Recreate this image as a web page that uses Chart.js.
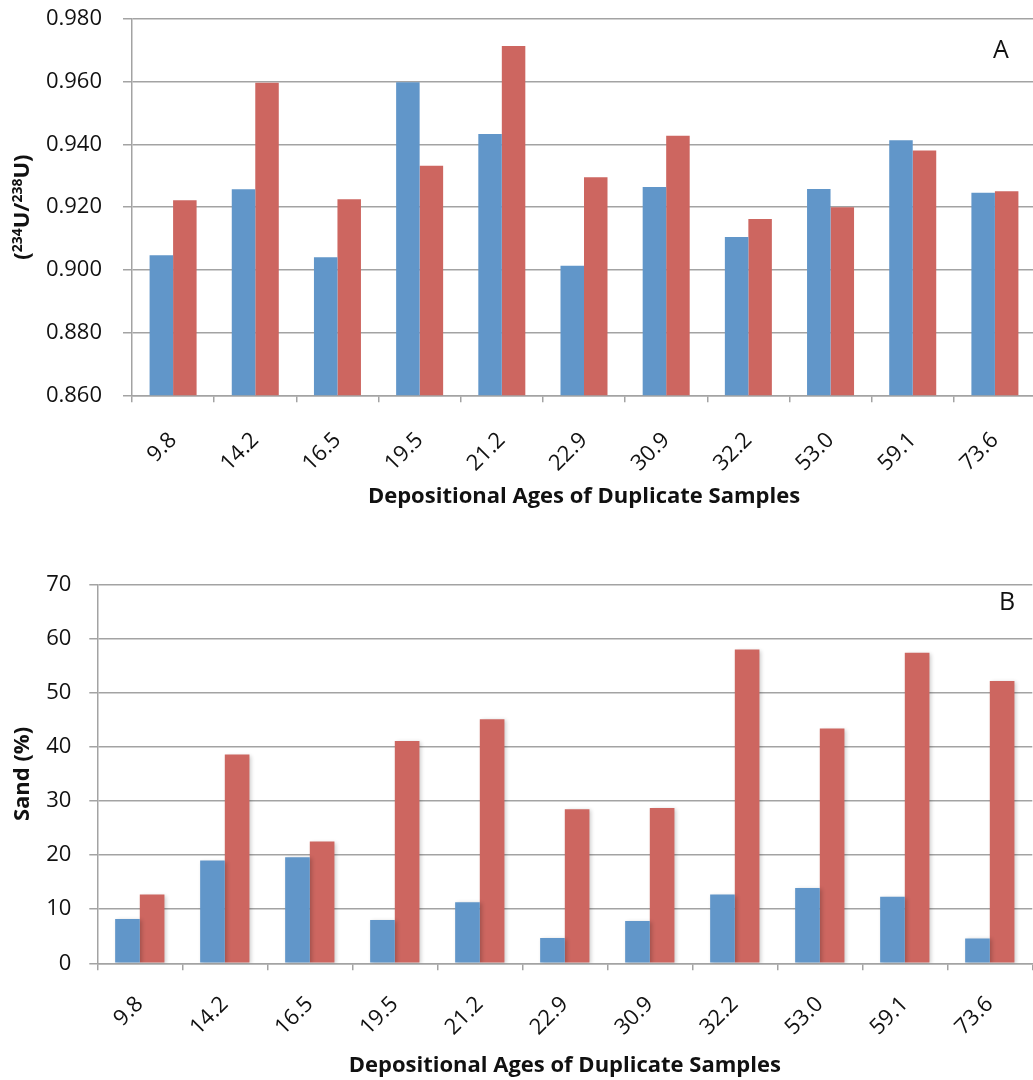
<!DOCTYPE html>
<html>
<head>
<meta charset="utf-8">
<title>Depositional ages of duplicate samples</title>
<script src="https://cdn.jsdelivr.net/npm/chart.js@4/dist/chart.umd.min.js"></script>
<style>
  html, body { margin: 0; padding: 0; background: #ffffff; overflow: hidden; }
  .panel { position: absolute; left: 0; width: 1040px; height: 530px; }
  #panelA { top: 0; }
  #panelB { top: 550px; }
</style>
</head>
<body>
<div class="panel" id="panelA"><canvas id="chartA" width="1040" height="530"></canvas></div>
<div class="panel" id="panelB"><canvas id="chartB" width="1040" height="530"></canvas></div>
<script>
// Depositional ages (ka) of the duplicate sample pairs
const ages = ['9.8', '14.2', '16.5', '19.5', '21.2', '22.9', '30.9', '32.2', '53.0', '59.1', '73.6'];

// Panel A: (234U/238U) activity ratios
const ratioFirst  = [0.9047, 0.9257, 0.9040, 0.9598, 0.9433, 0.9013, 0.9264, 0.9105, 0.9258, 0.9413, 0.9246];
const ratioSecond = [0.9222, 0.9597, 0.9225, 0.9332, 0.9714, 0.9295, 0.9428, 0.9162, 0.9200, 0.9381, 0.9251];

// Panel B: sand content (%)
const sandFirst  = [8.2, 19.0, 19.6, 8.0, 11.3, 4.7, 7.8, 12.7, 13.9, 12.3, 4.6];
const sandSecond = [12.7, 38.6, 22.5, 41.1, 45.1, 28.5, 28.7, 58.0, 43.4, 57.4, 52.2];

const FONT = "'Open Sans', 'Liberation Sans', sans-serif";
const BLUE = '#6196c9';
const RED = '#cd6660';
const GRID = '#a3a3a3';
const INK = '#111111';

// Letter tag in the upper right of each panel
const panelLetter = {
  id: 'panelLetter',
  afterDraw(chart, args, opts) {
    const ctx = chart.ctx;
    ctx.save();
    ctx.font = '25px ' + FONT;
    ctx.fillStyle = INK;
    ctx.textAlign = 'center';
    ctx.textBaseline = 'middle';
    ctx.fillText(opts.text, opts.x, opts.y);
    ctx.restore();
  }
};

// Rotated y title with superscript mass numbers
const isotopeTitle = {
  id: 'isotopeTitle',
  afterDraw(chart, args, opts) {
    if (!opts.parts) return;
    const ctx = chart.ctx;
    const big = 'bold 22px ' + FONT;
    const small = 'bold 14px ' + FONT;
    ctx.save();
    ctx.translate(opts.x, (chart.chartArea.top + chart.chartArea.bottom) / 2);
    ctx.rotate(-Math.PI / 2);
    let w = 0;
    opts.parts.forEach(p => { ctx.font = p.sup ? small : big; w += ctx.measureText(p.t).width; });
    let x = -w / 2;
    ctx.fillStyle = INK;
    ctx.textBaseline = 'middle';
    ctx.textAlign = 'left';
    opts.parts.forEach(p => {
      ctx.font = p.sup ? small : big;
      ctx.fillText(p.t, x, p.sup ? -5 : 0);
      x += ctx.measureText(p.t).width;
    });
    ctx.restore();
  }
};

// Soft drop shadow behind the bars
const barShadow = {
  id: 'barShadow',
  beforeDatasetsDraw(chart, args, opts) {
    if (!opts.on) return;
    const ctx = chart.ctx;
    ctx.save();
    ctx.shadowColor = 'rgba(0,0,0,0.2)';
    ctx.shadowBlur = 4;
    ctx.shadowOffsetX = 2;
    ctx.shadowOffsetY = 1;
  },
  afterDatasetsDraw(chart, args, opts) {
    if (!opts.on) return;
    chart.ctx.restore();
  }
};

function makeChart(id, cfg) {
  return new Chart(document.getElementById(id), {
    type: 'bar',
    data: {
      labels: ages,
      datasets: [
        { data: cfg.first, backgroundColor: BLUE, borderWidth: 0 },
        { data: cfg.second, backgroundColor: RED, borderWidth: 0 }
      ]
    },
    options: {
      responsive: false,
      animation: false,
      events: [],
      datasets: { bar: { barPercentage: 1.0, categoryPercentage: cfg.catPct } },
      layout: { autoPadding: false, padding: cfg.padding },
      plugins: {
        legend: { display: false },
        tooltip: { enabled: false },
        panelLetter: cfg.letter,
        isotopeTitle: cfg.isoTitle || {},
        barShadow: { on: !!cfg.shadow }
      },
      scales: {
        x: {
          grid: { offset: true, drawOnChartArea: false, drawTicks: true, tickLength: 7, color: GRID, lineWidth: 1.5 },
          border: { display: true, color: GRID, width: 1.5 },
          ticks: {
            color: INK, font: { family: FONT, size: 22 },
            minRotation: 45, maxRotation: 45, padding: cfg.xTickPad, autoSkip: false
          },
          title: {
            display: true, text: 'Depositional Ages of Duplicate Samples', color: INK,
            font: { family: FONT, size: 22, weight: 'bold' },
            padding: { top: 0, bottom: cfg.xTitlePad }
          },
          afterFit(scale) {
            scale.height = cfg.xHeight;
            scale.paddingLeft = 0; scale.paddingRight = 0;
          }
        },
        y: {
          min: cfg.min, max: cfg.max,
          grid: { drawTicks: true, tickLength: cfg.yTickLen, color: GRID, lineWidth: 1.5 },
          border: { display: true, color: GRID, width: 1.5 },
          ticks: {
            stepSize: cfg.step, color: INK, font: { family: FONT, size: 22 },
            padding: cfg.yTickPad,
            callback: cfg.fmt
          },
          title: cfg.yTitle,
          afterFit(scale) {
            scale.width = cfg.yWidth;
            scale.paddingTop = 0; scale.paddingBottom = 0;
          }
        }
      }
    },
    plugins: [barShadow, panelLetter, isotopeTitle]
  });
}

makeChart('chartA', {
  first: ratioFirst, second: ratioSecond,
  min: 0.860, max: 0.980, step: 0.020,
  fmt: v => v.toFixed(3),
  catPct: 0.572,
  padding: { top: 19, right: 4, left: 0, bottom: 0 },
  yWidth: 132, xHeight: 134.7,
  yTickLen: 9, yTickPad: 21,
  xTickPad: 25, xTitlePad: 20,
  yTitle: { display: false },
  isoTitle: {
    x: 23,
    parts: [{ t: '(' }, { t: '234', sup: true }, { t: 'U/' }, { t: '238', sup: true }, { t: 'U)' }]
  },
  letter: { text: 'A', x: 1001, y: 51 }
});

makeChart('chartB', {
  first: sandFirst, second: sandSecond,
  min: 0, max: 70, step: 10,
  fmt: v => String(v),
  catPct: 0.58,
  padding: { top: 34.7, right: 7.7, left: 0, bottom: 0 },
  yWidth: 97.3, xHeight: 116.7,
  yTickLen: 8, yTickPad: 18,
  xTickPad: 21, xTitlePad: 1,
  shadow: true,
  yTitle: {
    display: true, text: 'Sand (%)', color: INK,
    font: { family: FONT, size: 22, weight: 'bold' },
    padding: { top: 10, bottom: 0 }
  },
  letter: { text: 'B', x: 1007, y: 52.5 }
});
</script>
</body>
</html>
